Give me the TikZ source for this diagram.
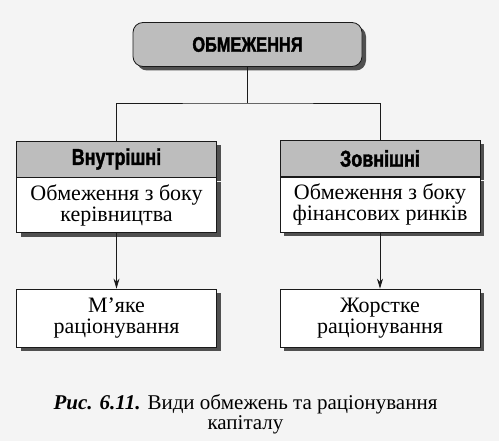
\documentclass[tikz,border=0pt]{standalone}
\usepackage{fontspec}
\setmainfont{Liberation Serif}
\newfontfamily\headfont[FakeStretch=0.78, FakeBold=1.6]{Liberation Sans}
\usetikzlibrary{positioning, shadows, arrows.meta}

\begin{document}
\begin{tikzpicture}[x=1pt, y=-1pt,
    shadowed/.style={drop shadow={shadow xshift=4pt, shadow yshift=-4pt, fill=shadowColour, opacity=1}},
    topbox/.style={shadowed, draw=borderColour, fill=headColour, line width=0.8pt, rounded corners=10pt,
        minimum width=229pt, minimum height=44pt, inner sep=0pt, font=\headfont\bfseries\fontsize{21}{21}\selectfont},
    headbox/.style={shadowed, draw=borderColour, fill=headColour, line width=0.8pt,
        minimum width=200pt, minimum height=36pt, inner sep=0pt, font=\headfont\bfseries\fontsize{23}{23}\selectfont},
    bodybox/.style={shadowed, draw=borderColour, fill=white, line width=0.8pt, align=center,
        minimum width=200pt, minimum height=55pt, inner sep=0pt, font=\fontsize{22}{21}\selectfont},
    leafbox/.style={bodybox, minimum height=58pt},
    link/.style={draw=borderColour, line width=0.8pt},
    arrow/.style={link, -{Stealth[length=10pt, width=6pt]}}]
    \definecolor{borderColour}{HTML}{1A1A1A}
    \definecolor{headColour}{HTML}{BDBDBD}
    \definecolor{shadowColour}{HTML}{505050}
    \definecolor{paperColour}{HTML}{F4F4F4}

    % Paper
    \fill[paperColour] (0,0) rectangle (499,441);
    \useasboundingbox (0,0) rectangle (499,441);

    % Main box
    \node[topbox] (limits) at (247.5,44.5) {ОБМЕЖЕННЯ};

    % Kinds of limits
    \node[headbox] (inner) at (116.5,159) {Внутрішні};
    \node[bodybox, below=0pt of inner] (innerbody) {Обмеження з боку\\керівництва};
    \node[headbox] (outer) at (380,158.5) {Зовнішні};
    \node[bodybox, below=0pt of outer] (outerbody) {Обмеження з боку\\фінансових ринків};

    % Kinds of rationing
    \node[leafbox] (soft) at (116.5,318) {М’яке\\раціонування};
    \node[leafbox] (hard) at (380,318) {Жорстке\\раціонування};

    % Connectors
    \coordinate (split) at (247.5,103);
    \draw[link] (limits) -- (split);
    \draw[link] (inner) |- (split) -| (outer);
    \draw[arrow] (innerbody) -- (soft);
    \draw[arrow] (outerbody) -- (hard);

    % Caption
    \node[align=center, font=\fontsize{21}{20}\selectfont] (caption) at (245.5,414)
        {\textbf{\textit{Рис. 6.11.}} Види обмежень та раціонування\\капіталу};
\end{tikzpicture}
\end{document}
